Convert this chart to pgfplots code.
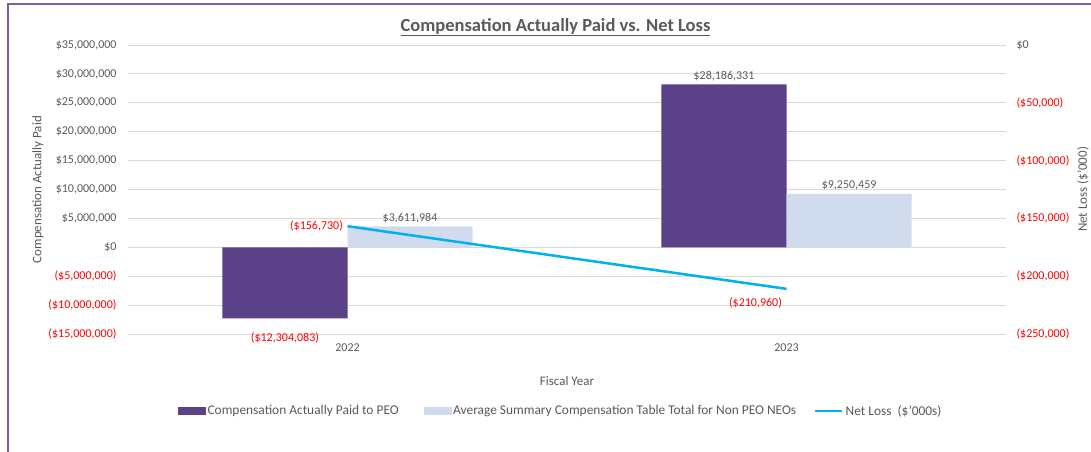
\documentclass[border=0pt]{standalone}
\usepackage{fontspec}
\setmainfont{Carlito}
\usepackage{pgfplots}
\pgfplotsset{compat=1.18}
\definecolor{peo}{HTML}{5B4187}
\definecolor{neo}{HTML}{D0DBEE}
\definecolor{nl}{HTML}{00B0F0}
\definecolor{txt}{HTML}{595959}
\definecolor{neg}{HTML}{FF0000}
\definecolor{gridc}{HTML}{D9D9D9}
\definecolor{framec}{HTML}{7A5FA6}
\pgfplotsset{
  myaxis/.style={
    at={(128bp,118bp)}, anchor=south west, scale only axis,
    width=878bp, height=289bp,
    xmin=-0.5, xmax=1.5,
    axis line style={draw=none},
    major tick length=0pt,
    scaled y ticks=false,
    font=\fontsize{12bp}{14bp}\selectfont,
    tick label style={txt, font=\fontsize{12bp}{14bp}\selectfont},
    label style={txt, font=\fontsize{13bp}{15bp}\selectfont},
  }
}
\begin{document}
\begin{tikzpicture}[x=1bp,y=1bp]
\useasboundingbox (0,0) rectangle (1091,452);
\draw[framec, line width=1.3bp] (8,-5) -- (8,448) -- (1100,448);
\node[txt, font=\bfseries\fontsize{18.5bp}{21bp}\selectfont] at (555.5,425) {\underline{Compensation Actually Paid vs. Net Loss}};
\begin{axis}[myaxis,
  ybar, bar width=0.285,
  ymin=-15000000, ymax=35000000,
  ymajorgrids, grid style={gridc, line width=0.9bp},
  xtick={0,1}, xticklabels={2022,2023},
  xticklabel style={yshift=-6bp},
  ytick={-15000000,-10000000,-5000000,0,5000000,10000000,15000000,20000000,25000000,30000000,35000000},
  yticklabels={{\color{neg}(\$15,000,000)},{\color{neg}(\$10,000,000)},{\color{neg}(\$5,000,000)},{\$0},{\$5,000,000},{\$10,000,000},{\$15,000,000},{\$20,000,000},{\$25,000,000},{\$30,000,000},{\$35,000,000}},
  yticklabel style={xshift=-8bp},
  xlabel={Fiscal Year},
  xlabel style={at={(axis description cs:0.5,-0.163)}, anchor=center},
  ylabel={Compensation Actually Paid},
  ylabel style={at={(axis description cs:-0.1025,0.5)}, anchor=center},
  point meta=explicit symbolic,
  nodes near coords,
  visualization depends on={value \thisrow{anc} \as \anc},
  visualization depends on={value \thisrow{dy} \as \dy},
]
\addplot[fill=peo, draw=none, bar shift=-0.1425,
  nodes near coords style={txt, font=\fontsize{12bp}{14bp}\selectfont, anchor=\anc, yshift=\dy bp}]
  table[x=x, y=y, meta=lab] {
x y lab anc dy
0 -12304083 {\color{neg}(\$12,304,083)} north -11
1 28186331 {\$28,186,331} south 0
};
\addplot[fill=neo, draw=none, bar shift=0.1425,
  nodes near coords style={txt, font=\fontsize{12bp}{14bp}\selectfont, anchor=\anc, yshift=\dy bp}]
  table[x=x, y=y, meta=lab] {
x y lab anc dy
0 3611984 {\$3,611,984} south 0
1 9250459 {\$9,250,459} south 0
};
\end{axis}
\begin{axis}[myaxis,
  ymin=-250000, ymax=0,
  axis y line*=right, axis x line=none,
  ytick={-250000,-200000,-150000,-100000,-50000,0},
  yticklabels={{\color{neg}(\$250,000)},{\color{neg}(\$200,000)},{\color{neg}(\$150,000)},{\color{neg}(\$100,000)},{\color{neg}(\$50,000)},{\$0}},
  yticklabel style={xshift=7bp},
  ylabel={Net Loss (\$'000)},
  ylabel style={at={(axis description cs:1.0877,0.5)}, anchor=center},
  legend columns=3,
  legend style={draw=none, fill=none, at={(0.493,-0.266)}, anchor=center,
    font=\fontsize{13.4bp}{15bp}\selectfont, text=txt,
    /tikz/column 2/.style={column sep=23bp},
    /tikz/column 4/.style={column sep=16bp}},
]
\addlegendimage{legend image code/.code={\fill[peo] (0bp,-3.5bp) rectangle (27bp,3.5bp);}}
\addlegendentry{Compensation Actually Paid to PEO}
\addlegendimage{legend image code/.code={\fill[neo] (0bp,-3.5bp) rectangle (27bp,3.5bp);}}
\addlegendentry{Average Summary Compensation Table Total for Non PEO NEOs}
\addplot[nl, line width=2.5bp, mark=none,
  legend image code/.code={\draw[nl, line width=2.5bp] (0bp,0bp) -- (27bp,0bp);},
  point meta=explicit symbolic, nodes near coords,
  visualization depends on={value \thisrow{anc} \as \anc},
  visualization depends on={value \thisrow{dy} \as \dy},
  nodes near coords style={neg, font=\fontsize{12bp}{14bp}\selectfont, anchor=\anc, yshift=\dy bp}]
  table[x=x, y=y, meta=lab] {
x y lab anc dy
0 -156730 {(\$156,730)} east 0
1 -210960 {(\$210,960)} {north east} -4
};
\addlegendentry{Net Loss~ (\$'000s)}
\end{axis}
\end{tikzpicture}
\end{document}
